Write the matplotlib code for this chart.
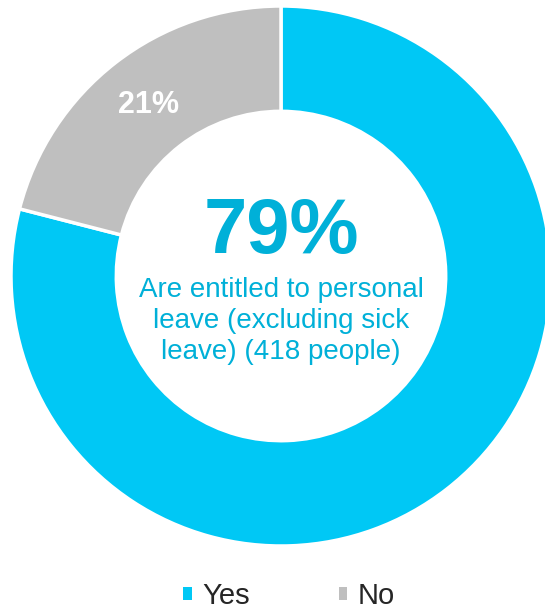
import matplotlib
matplotlib.use("Agg")
import matplotlib.pyplot as plt
from matplotlib.patches import Patch

plt.rcParams['font.family'] = ['Liberation Sans', 'DejaVu Sans']

categories = ["Yes", "No"]
shares = [79, 21]
colors = ["#00C8F5", "#BFBFBF"]
people_yes = 418
center_caption = f"Are entitled to personal\nleave (excluding sick\nleave) ({people_yes} people)"

W, H = 545, 611
fig = plt.figure(figsize=(W / 100, H / 100), dpi=100)
ax = fig.add_axes([0, 0, 1, 1])

cx, cy, R = 281, H - 276, 270
wedges, texts, autotexts = ax.pie(
    shares, colors=colors, startangle=90, counterclock=False,
    center=(cx, cy), radius=R, frame=True,
    autopct=lambda p: f"{p:.0f}%", pctdistance=0.8,
    wedgeprops=dict(width=R * 0.39, edgecolor='white', linewidth=2.5),
    textprops=dict(color='white', fontsize=22, fontweight='bold'))
ax.set_xlim(0, W)
ax.set_ylim(0, H)
ax.set_aspect('equal')
ax.axis('off')
autotexts[0].set_visible(False)

ax.text(cx, cy + 44, f"{shares[0]}%", ha='center', va='center',
        fontsize=56, fontweight='bold', color='#00B0D8')
ax.text(cx, cy - 45, center_caption, ha='center', va='center',
        fontsize=20, color='#00B0D8', linespacing=1.23)

handles = [Patch(facecolor=c, edgecolor='none') for c in colors]
leg = ax.legend(handles, categories, loc='center', ncol=2,
                bbox_to_anchor=(289 / W, 1 - 596 / H),
                frameon=False, fontsize=21, handlelength=0.3,
                handleheight=0.3, handletextpad=0.35, columnspacing=3.05,
                labelcolor='#262626', borderpad=0.1)

fig.savefig("out.png", dpi=100)
